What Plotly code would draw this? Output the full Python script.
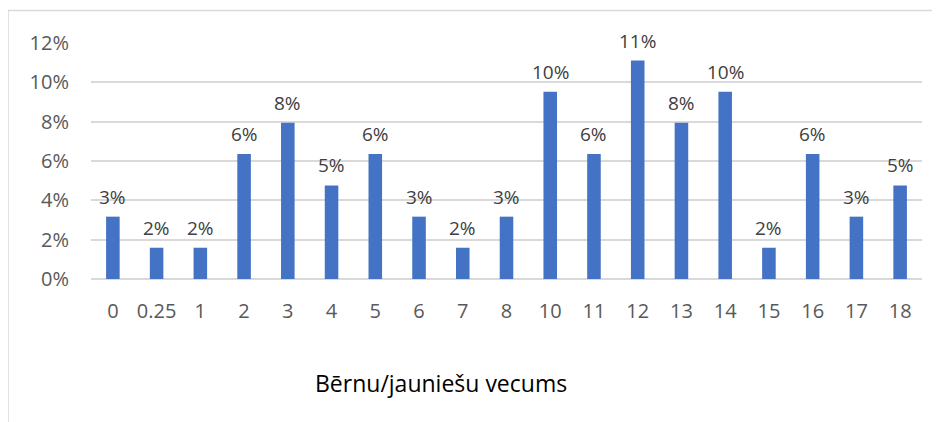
import plotly.graph_objects as go

ages = ["0", "0.25", "1", "2", "3", "4", "5", "6", "7", "8", "10",
        "11", "12", "13", "14", "15", "16", "17", "18"]
shares = [0.0317, 0.0159, 0.0159, 0.0635, 0.0794, 0.0476, 0.0635, 0.0317,
          0.0159, 0.0317, 0.0952, 0.0635, 0.1111, 0.0794, 0.0952, 0.0159,
          0.0635, 0.0317, 0.0476]
y_ticks = [0, 0.02, 0.04, 0.06, 0.08, 0.10, 0.12]
x_title = "Bērnu/jauniešu vecums"

# page body has an 8px margin, so work in figure coords = page coords - 8
OFF = 8
W, H = 940 - OFF, 422 - OFF
L, R, T, B = 91 - OFF, 18, 43 - OFF, 143
pw, ph = W - L - R, H - T - B

def px(x):
    return (x - OFF - L) / pw

def py(y):
    return (H - B - (y - OFF)) / ph

FONT = "Open Sans"

fig = go.Figure(go.Bar(
    x=ages, y=shares,
    marker=dict(color="#4472C4", line=dict(width=0)),
    cliponaxis=False,
))

# data labels: category axis positions are the category indices
for i, s in enumerate(shares):
    fig.add_annotation(
        x=i, y=s, xref="x", yref="y", text=f"{s:.0%}", showarrow=False,
        xanchor="center", yanchor="middle", yshift=20,
        font=dict(family=FONT, size=19, color="#404040"),
    )

fig.update_layout(
    width=W, height=H,
    margin=dict(l=L, r=R, t=T, b=B, autoexpand=False),
    paper_bgcolor="white", plot_bgcolor="white",
    bargap=0.69, showlegend=False,
    font=dict(family=FONT),
)
fig.update_yaxes(
    range=[0, 0.12], tickvals=y_ticks, tickformat=".0%",
    showgrid=True, gridcolor="#D9D9D9", gridwidth=1.5,
    zeroline=True, zerolinecolor="#D9D9D9", zerolinewidth=1.5,
    showline=False, ticks="", ticklabelstandoff=21, automargin=False,
    tickfont=dict(family=FONT, size=20, color="#595959"),
)
fig.update_xaxes(
    type="category", showgrid=False, showline=False, ticks="",
    ticklabelstandoff=18, automargin=False,
    tickfont=dict(family=FONT, size=20, color="#595959"),
)
fig.add_annotation(
    x=px(441), y=py(383), xref="paper", yref="paper",
    text=x_title, showarrow=False, xanchor="center", yanchor="middle",
    font=dict(family=FONT, size=23, color="#000000"),
)
fig.add_shape(
    type="rect", xref="paper", yref="paper",
    x0=px(8), x1=px(960), y0=py(450), y1=py(10.5),
    line=dict(color="#D9D9D9", width=1.5), fillcolor="rgba(0,0,0,0)",
    layer="below",
)

fig.write_html("out.html")
